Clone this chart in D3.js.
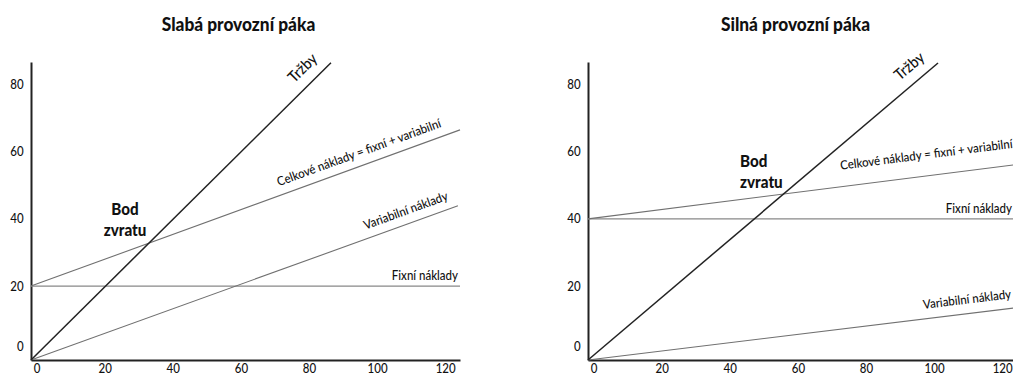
<!DOCTYPE html>
<html>
<head>
<meta charset="utf-8">
<script src="https://cdn.jsdelivr.net/npm/d3@7"></script>
<style>
  html, body { margin: 0; padding: 0; background: #fff; }
  svg { display: block; }
  text { font-family: Lato, "Liberation Sans", sans-serif; fill: #111; }
</style>
</head>
<body>
<svg id="chart" width="1013" height="376"></svg>
<script>
// Break-even charts: weak vs. strong operating leverage
const panelTitles = ["Slabá provozní páka", "Silná provozní páka"];
const xTicks = [0, 20, 40, 60, 80, 100, 120];
const yTicks = [0, 20, 40, 60, 80];

// Each series: [startX, endX] and [startY, endY]; lines start at the axis corner
const salesX    = [[-1.1, 87.0], [-1.1, 101.7]];
const salesY    = [[-2, 86.5],   [-2, 86.4]];
const variableX = [[-1.1, 124.3], [-1.1, 124.9]];
const variableY = [[-2, 43.9],    [-2, 13.6]];
const fixedX    = [[-1.1, 124.9], [-1.1, 124.9]];
const fixedY    = [[20, 20],      [40, 40]];
const totalX    = [[-1.1, 124.9], [-1.1, 124.9]];
const totalY    = [[20, 66.5],    [40, 56.2]];

const lblSales = "Tržby";
const lblTotal = "Celkové náklady = fixní + variabilní";
const lblVariable = "Variabilní náklady";
const lblFixed = "Fixní náklady";
const lblBreakEven = ["Bod", "zvratu"];

const svg = d3.select("#chart");
const panelOffsets = [0, 557];
const xDomain = [-1.1, 124.9];
const yDomain = [-2, 86.7];
const squeeze = 0.92;   // slightly condensed lettering

function placeAlong(g, p0, p1, t, off, txt, anchor, size) {
  const ang = Math.atan2(p1[1] - p0[1], p1[0] - p0[0]);
  const px = p0[0] + (p1[0] - p0[0]) * t;
  const py = p0[1] + (p1[1] - p0[1]) * t;
  const nx = Math.sin(ang), ny = -Math.cos(ang);
  const x = px + nx * off, y = py + ny * off;
  g.append("text")
    .attr("transform", `translate(${x},${y}) rotate(${ang * 180 / Math.PI}) scale(${squeeze},1)`)
    .attr("text-anchor", anchor)
    .attr("font-size", size)
    .attr("font-weight", 500)
    .text(txt);
}

function plainText(g, x, y, txt, anchor, size, weight) {
  return g.append("text")
    .attr("transform", `translate(${x},${y}) scale(${squeeze},1)`)
    .attr("text-anchor", anchor)
    .attr("font-size", size)
    .attr("font-weight", weight || 500)
    .text(txt);
}

panelTitles.forEach((title, i) => {
  const ox = panelOffsets[i];
  const x = d3.scaleLinear().domain(xDomain).range([ox + 31, ox + 460]);
  const y = d3.scaleLinear().domain(yDomain).range([360, 62]);
  const g = svg.append("g");

  // title
  plainText(g, ox + 238.5, 31, title, "middle", 18.8, 900);

  // axes
  const xAxis = d3.axisBottom(x).tickValues(xTicks).tickSize(0).tickPadding(4);
  const yAxis = d3.axisLeft(y).tickValues(yTicks).tickSize(0).tickPadding(8);
  const gx = g.append("g").attr("transform", `translate(0,${y(yDomain[0])})`).call(xAxis);
  const gy = g.append("g").attr("transform", `translate(${x(xDomain[0])},0)`).call(yAxis);
  [gx, gy].forEach(a => {
    a.select(".domain").attr("stroke", "#222").attr("stroke-width", 2);
    a.selectAll("text").attr("font-size", 12.5).attr("fill", "#111").attr("font-weight", 500)
      .style("font-family", 'Lato, "Liberation Sans", sans-serif');
  });
  gx.selectAll(".tick text").attr("dx", 2).attr("transform", `scale(${squeeze},1)`);
  gy.selectAll(".tick text").attr("transform", `scale(${squeeze},1)`);
  gy.selectAll(".tick").filter(d => d === 0).select("text").attr("dy", "-0.2em");

  const line = d3.line().x(d => x(d[0])).y(d => y(d[1]));
  const seg = (xs, ys) => [[xs[0], ys[0]], [xs[1], ys[1]]];

  const fixed = seg(fixedX[i], fixedY[i]);
  const total = seg(totalX[i], totalY[i]);
  const variable = seg(variableX[i], variableY[i]);
  const sales = seg(salesX[i], salesY[i]);

  g.append("path").attr("d", line(fixed)).attr("fill", "none").attr("stroke", "#888").attr("stroke-width", 1.2);
  g.append("path").attr("d", line(total)).attr("fill", "none").attr("stroke", "#707070").attr("stroke-width", 1.1);
  g.append("path").attr("d", line(variable)).attr("fill", "none").attr("stroke", "#707070").attr("stroke-width", 1.1);
  g.append("path").attr("d", line(sales)).attr("fill", "none").attr("stroke", "#222").attr("stroke-width", 1.5);

  const pix = s => s.map(d => [x(d[0]), y(d[1])]);
  const ps = pix(sales), pt = pix(total), pv = pix(variable), pf = pix(fixed);

  // line labels
  const salesLen = Math.hypot(ps[1][0] - ps[0][0], ps[1][1] - ps[0][1]);
  placeAlong(g, ps[0], ps[1], 1 - 7 / salesLen, 11, lblSales, "end", 15.5);
  if (i === 0) {
    placeAlong(g, pt[0], pt[1], 0.775, 9, lblTotal, "middle", 12.5);
    placeAlong(g, pv[0], pv[1], 0.888, 9, lblVariable, "middle", 12.5);
  } else {
    placeAlong(g, pt[0], pt[1], 0.594, 17, lblTotal, "start", 12.5);
    placeAlong(g, pv[0], pv[1], 0.785, 10, lblVariable, "start", 12.5);
  }
  plainText(g, i === 0 ? pf[1][0] - 2 : ox + 455, pf[0][1] - 6, lblFixed, "end", 12.5);

  // break-even annotation
  const bx = i === 0 ? ox + 125 : ox + 183;
  const by = i === 0 ? 215 : 167;
  lblBreakEven.forEach((w, k) => {
    plainText(g, bx, by + k * 21, w, i === 0 ? "middle" : "start", 16.5, 900);
  });
});
</script>
</body>
</html>
